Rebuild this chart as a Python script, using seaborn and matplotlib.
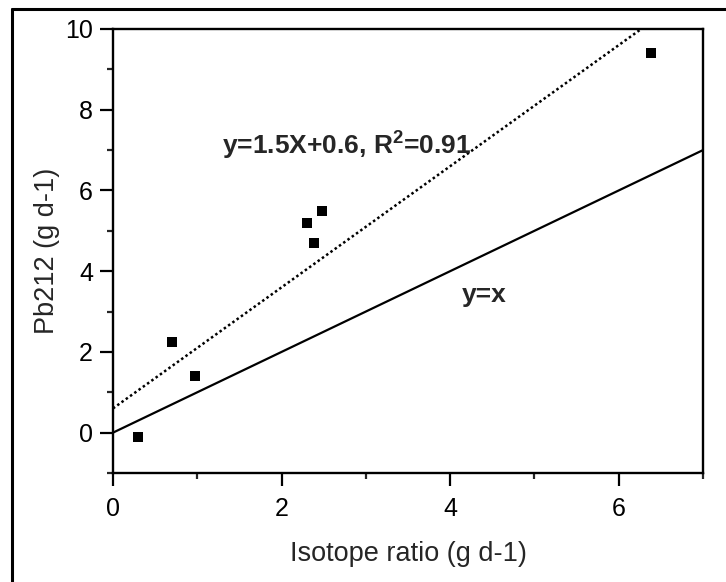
import numpy as np
import pandas as pd
import matplotlib
matplotlib.use("Agg")
import matplotlib.pyplot as plt
from matplotlib.ticker import MultipleLocator
import seaborn as sns

# Data
isotope_ratio = [0.30, 0.70, 0.97, 2.30, 2.39, 2.48, 6.38]
pb212 = [-0.12, 2.25, 1.40, 5.20, 4.70, 5.50, 9.40]

fit_slope = 1.5
fit_intercept = 0.6
fit_label = r"y=1.5X+0.6, R$^\mathbf{2}$=0.91"
identity_label = "y=x"
x_label = "Isotope ratio (g d-1)"
y_label = "Pb212 (g d-1)"
x_ticks = [0, 2, 4, 6]
y_ticks = [0, 2, 4, 6, 8, 10]

sns.set_theme(style="ticks")
plt.rcParams['font.family'] = ['Liberation Sans', 'DejaVu Sans']
plt.rcParams['mathtext.fontset'] = 'custom'
plt.rcParams['mathtext.rm'] = 'Liberation Sans'
plt.rcParams['mathtext.bf'] = 'Liberation Sans:bold'

fig = plt.figure(figsize=(7.26, 5.82), dpi=100)
ax = fig.add_axes([113/726, 1 - 473/582, (703 - 113)/726, (473 - 29)/582])

df = pd.DataFrame({"x": isotope_ratio, "y": pb212})
sns.scatterplot(data=df, x="x", y="y", marker="s", s=55, color="black",
                edgecolor="black", linewidth=0, ax=ax, zorder=5)

xl = np.array([0.0, 7.0])
sns.lineplot(x=xl, y=xl, color="black", linewidth=1.6, ax=ax)
xf = np.array([0.0, (10 - fit_intercept) / fit_slope])
ax.plot(xf, fit_slope * xf + fit_intercept, color="black", linewidth=1.8,
        linestyle=(0, (1, 1.1)))

ax.set_xlim(0, 7)
ax.set_ylim(-1, 10)
ax.set_xticks(x_ticks)
ax.set_yticks(y_ticks)
ax.xaxis.set_minor_locator(MultipleLocator(1))
ax.yaxis.set_minor_locator(MultipleLocator(1))
ax.tick_params(which="major", direction="out", length=9.4, width=1.6,
               labelsize=18, pad=5, colors="black")
ax.tick_params(axis="x", which="major", pad=8)
ax.tick_params(which="minor", direction="out", length=4.5, width=1.6)
for s in ax.spines.values():
    s.set_linewidth(1.7)
    s.set_color("black")

ax.set_xlabel(x_label, fontsize=19.5, labelpad=14)
ax.set_ylabel(y_label, fontsize=19.5, labelpad=4)

ax.text(1.29, 7.13, fit_label, fontsize=19, fontweight="bold", va="center",
        ha="left")
ax.text(4.14, 3.42, identity_label, fontsize=19, fontweight="bold",
        va="center", ha="left")

# frame lines at the left and top of the figure
fig.add_artist(plt.Line2D([12/726, 12/726], [0, 1 - 9/582], color="black",
                          linewidth=2.2, transform=fig.transFigure))
fig.add_artist(plt.Line2D([12/726, 1], [1 - 9/582, 1 - 9/582], color="black",
                          linewidth=2.2, transform=fig.transFigure))

fig.savefig("out.png", dpi=100)
